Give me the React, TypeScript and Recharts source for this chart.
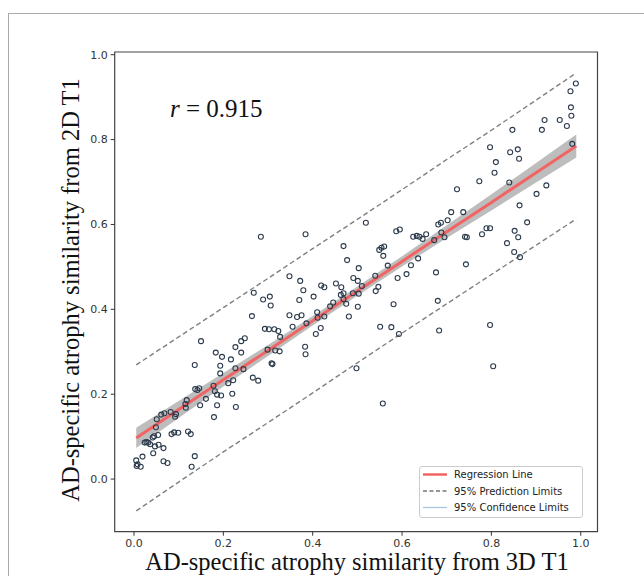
import React from "react";
import {
  ComposedChart,
  Scatter,
  Line,
  Area,
  XAxis,
  YAxis,
  ReferenceArea,
} from "recharts";

// ---- data ----
const scatterX = [
  0.005, 0.008, 0.006, 0.015, 0.019, 0.024, 0.028, 0.032, 0.036, 0.043, 0.042, 0.045, 0.047, 0.049, 0.051,
  0.054, 0.055, 0.066, 0.066, 0.061, 0.068, 0.075, 0.082, 0.084, 0.09, 0.092, 0.099, 0.094, 0.115, 0.116,
  0.118, 0.121, 0.127, 0.129, 0.136, 0.137, 0.142, 0.146, 0.148, 0.161, 0.178, 0.181, 0.179, 0.186, 0.186,
  0.195, 0.211, 0.22, 0.228, 0.222, 0.278,
  0.284, 0.384, 0.519, 0.587, 0.595, 0.625, 0.633, 0.639, 0.646, 0.654, 0.672, 0.681, 0.469, 0.477, 0.503,
  0.549, 0.554, 0.56, 0.558, 0.568, 0.62, 0.636, 0.61, 0.59, 0.54, 0.547, 0.541, 0.676, 0.68, 0.581, 0.551,
  0.576, 0.593, 0.683, 0.498, 0.557, 0.348, 0.372, 0.379, 0.419, 0.426, 0.452, 0.464, 0.469, 0.491, 0.501,
  0.51, 0.49, 0.503, 0.268, 0.289, 0.304, 0.306, 0.37, 0.402, 0.439, 0.446, 0.463, 0.469, 0.475, 0.501, 0.481,
  0.264, 0.348, 0.365, 0.375, 0.355, 0.386, 0.41, 0.411, 0.426, 0.418, 0.407, 0.293, 0.302, 0.314, 0.323,
  0.327, 0.299, 0.316, 0.326, 0.308, 0.31, 0.383, 0.384, 0.248, 0.24, 0.227, 0.24, 0.197, 0.217, 0.227,
  0.245, 0.193, 0.193, 0.266,
  0.989, 0.977, 0.978, 0.979, 0.969, 0.953, 0.919, 0.913, 0.847, 0.981, 0.797, 0.842, 0.859, 0.862, 0.81,
  0.807, 0.773, 0.84, 0.923, 0.901, 0.723, 0.863, 0.71, 0.737, 0.702, 0.687, 0.88, 0.688, 0.695, 0.741,
  0.745, 0.779, 0.789, 0.797, 0.852, 0.86,
  0.743, 0.835, 0.851, 0.864, 0.797, 0.804, 0.15, 0.136, 0.183,
];
const scatterY = [
  0.044, 0.035, 0.031, 0.029, 0.053, 0.086, 0.087, 0.086, 0.082, 0.061, 0.098, 0.101, 0.077, 0.122, 0.141,
  0.104, 0.081, 0.073, 0.042, 0.152, 0.155, 0.038, 0.158, 0.106, 0.11, 0.147, 0.109, 0.153, 0.177, 0.168,
  0.186, 0.112, 0.106, 0.029, 0.054, 0.212, 0.21, 0.214, 0.174, 0.189, 0.22, 0.207, 0.146, 0.174, 0.199,
  0.197, 0.226, 0.201, 0.17, 0.233, 0.232,
  0.571, 0.577, 0.604, 0.584, 0.588, 0.571, 0.573, 0.571, 0.566, 0.577, 0.563, 0.6, 0.549, 0.516, 0.497,
  0.54, 0.545, 0.548, 0.526, 0.503, 0.504, 0.52, 0.483, 0.474, 0.479, 0.453, 0.443, 0.487, 0.42, 0.412, 0.359,
  0.358, 0.342, 0.35, 0.261, 0.178, 0.478, 0.467, 0.445, 0.456, 0.452, 0.461, 0.452, 0.438, 0.474, 0.467,
  0.455, 0.438, 0.437, 0.439, 0.423, 0.43, 0.409, 0.422, 0.43, 0.407, 0.416, 0.434, 0.424, 0.413, 0.406, 0.383,
  0.384, 0.386, 0.382, 0.386, 0.359, 0.367, 0.393, 0.38, 0.383, 0.356, 0.342, 0.354, 0.353, 0.353, 0.349,
  0.335, 0.305, 0.303, 0.301, 0.273, 0.271, 0.312, 0.294, 0.332, 0.325, 0.311, 0.298, 0.288, 0.282, 0.261,
  0.259, 0.267, 0.249, 0.239,
  0.932, 0.914, 0.876, 0.856, 0.832, 0.846, 0.846, 0.823, 0.823, 0.79, 0.782, 0.77, 0.777, 0.755, 0.747,
  0.722, 0.702, 0.699, 0.692, 0.672, 0.683, 0.645, 0.629, 0.629, 0.61, 0.604, 0.605, 0.581, 0.57, 0.571,
  0.57, 0.577, 0.591, 0.591, 0.585, 0.57,
  0.506, 0.556, 0.535, 0.523, 0.363, 0.266, 0.325, 0.269, 0.298,
];

const fitX = [0.005, 0.1, 0.2, 0.3, 0.4, 0.5, 0.6, 0.7, 0.8, 0.9, 0.99];
const fitY = [0.097, 0.164, 0.234, 0.303, 0.373, 0.443, 0.513, 0.583, 0.652, 0.722, 0.785];
const ciLow = [0.073, 0.144, 0.218, 0.29, 0.362, 0.432, 0.501, 0.568, 0.633, 0.699, 0.758];
const ciHigh = [0.121, 0.184, 0.25, 0.316, 0.384, 0.454, 0.525, 0.598, 0.671, 0.745, 0.812];
const predLow = [-0.075, -0.007, 0.064, 0.133, 0.203, 0.274, 0.344, 0.413, 0.482, 0.551, 0.613];
const predHigh = [0.269, 0.335, 0.404, 0.473, 0.543, 0.612, 0.682, 0.753, 0.822, 0.893, 0.957];

const xTicks = [0, 0.2, 0.4, 0.6, 0.8, 1.0];
const yTicks = [0, 0.2, 0.4, 0.6, 0.8, 1.0];

const rValue = "0.915";
const xLabel = "AD-specific atrophy similarity from 3D T1";
const yLabel = "AD-specific atrophy similarity from 2D T1";
const legendItems = [
  { label: "Regression Line", color: "#f26464", width: 2.5, dash: undefined as string | undefined },
  { label: "95% Prediction Limits", color: "#777777", width: 1.3, dash: "4 2.5" },
  { label: "95% Confidence Limits", color: "#a9c8e6", width: 1.3, dash: undefined as string | undefined },
];

const points = scatterX.map((x, i) => ({ x, y: scatterY[i] }));
const fitData = fitX.map((x, i) => ({
  x,
  fit: fitY[i],
  ci: [ciLow[i], ciHigh[i]],
  pLo: predLow[i],
  pHi: predHigh[i],
}));

const X_DOMAIN: [number, number] = [-0.0432, 1.0375];
const Y_DOMAIN: [number, number] = [-0.124, 1.0064];

const tickStyle = { fontFamily: "DejaVu Sans", fontSize: 11, fill: "#333" };
const serif = "'Liberation Serif', 'Times New Roman', serif";

const Dot = (props: any) => (
  <circle cx={props.cx} cy={props.cy} r={2.5} fill="none" stroke="#2c3b4c" strokeWidth={1.1} />
);

export default function App() {
  return (
    <div style={{ position: "relative", width: 644, height: 576, background: "#fff" }}>
      <style>{"body{margin:0;background:#fff}"}</style>
      <div
        style={{
          position: "absolute",
          left: 8,
          top: 13,
          width: 680,
          height: 600,
          borderLeft: "1.5px solid #aaa",
          borderTop: "1.5px solid #aaa",
        }}
      />
      <div style={{ position: "absolute", left: 0, top: 0 }}>
        <ComposedChart
          width={644}
          height={576}
          data={fitData}
          margin={{ top: 52, right: 46.5, bottom: 14.3, left: 74.7 }}
        >
          <XAxis
            type="number"
            dataKey="x"
            domain={X_DOMAIN}
            allowDataOverflow
            ticks={xTicks}
            tickFormatter={(v: number) => v.toFixed(1)}
            tick={tickStyle}
            tickSize={4}
            tickMargin={3}
            height={30}
            stroke="#333"
            axisLine={false}
          />
          <YAxis
            type="number"
            dataKey="y"
            domain={Y_DOMAIN}
            allowDataOverflow
            ticks={yTicks}
            tickFormatter={(v: number) => v.toFixed(1)}
            tick={tickStyle}
            tickSize={4}
            tickMargin={3}
            width={40}
            stroke="#333"
            axisLine={false}
          />
          <Area
            dataKey="ci"
            type="linear"
            stroke="none"
            fill="#bdbdbd"
            fillOpacity={1}
            isAnimationActive={false}
          />
          <Line
            dataKey="pHi"
            type="linear"
            stroke="#808080"
            strokeWidth={1.4}
            strokeDasharray="5 3"
            dot={false}
            isAnimationActive={false}
          />
          <Line
            dataKey="pLo"
            type="linear"
            stroke="#808080"
            strokeWidth={1.4}
            strokeDasharray="5 3"
            dot={false}
            isAnimationActive={false}
          />
          <Scatter data={points} shape={Dot} isAnimationActive={false} />
          <Line
            dataKey="fit"
            type="linear"
            stroke="#f26464"
            strokeWidth={3}
            dot={false}
            isAnimationActive={false}
          />
          <ReferenceArea
            x1={X_DOMAIN[0]}
            x2={X_DOMAIN[1]}
            y1={Y_DOMAIN[0]}
            y2={Y_DOMAIN[1]}
            fill="none"
            fillOpacity={0}
            stroke="#444"
            strokeWidth={1.2}
            ifOverflow="visible"
          />
        </ComposedChart>
      </div>
      <svg
        width={644}
        height={576}
        style={{ position: "absolute", left: 0, top: 0, pointerEvents: "none" }}
      >
        <text x={170} y={117} fontFamily={serif} fontSize={25} fill="#111">
          <tspan fontStyle="italic">r</tspan>
          <tspan> = {rValue}</tspan>
        </text>
        <text x={357} y={570} textAnchor="middle" fontFamily={serif} fontSize={24.5} fill="#111">
          {xLabel}
        </text>
        <text
          x={0}
          y={0}
          textAnchor="middle"
          fontFamily={serif}
          fontSize={24.5}
          fill="#111"
          transform="translate(79,290) rotate(-90)"
        >
          {yLabel}
        </text>
        <g>
          <rect x={419.5} y={466.5} width={163} height={51} rx={2.5} fill="#fff" fillOpacity={0.85} stroke="#ccc" />
          {legendItems.map((it, i) => (
            <g key={it.label}>
              <line
                x1={423}
                x2={447}
                y1={474.5 + i * 16.5}
                y2={474.5 + i * 16.5}
                stroke={it.color}
                strokeWidth={it.width}
                strokeDasharray={it.dash}
              />
              <text
                x={454}
                y={478.3 + i * 16.5}
                fontFamily="DejaVu Sans"
                fontSize={10}
                fill="#222"
              >
                {it.label}
              </text>
            </g>
          ))}
        </g>
      </svg>
    </div>
  );
}
